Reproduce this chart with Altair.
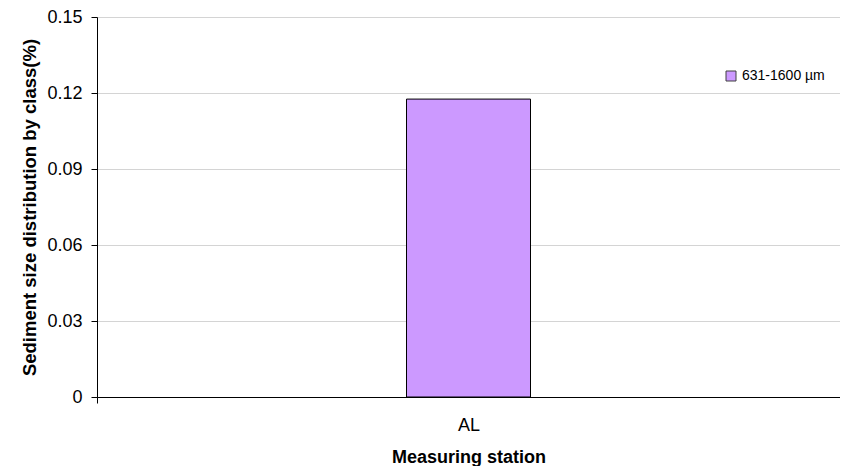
import altair as alt
import pandas as pd

stations = ["AL"]
values = [0.1176]
classes = ["631-1600 µm"]

df = pd.DataFrame({"station": stations, "value": values, "cls": classes})

FONT = "Liberation Sans"

bars = alt.Chart(df).mark_bar(size=124, stroke="black", strokeWidth=1).encode(
    x=alt.X("station:N", title="Measuring station",
            scale=alt.Scale(paddingInner=0, paddingOuter=0),
            axis=alt.Axis(labelAngle=0, labelFontSize=18, labelFont=FONT, labelColor="black",
                          titleFont=FONT, titleFontSize=18, titleFontWeight="bold", titleColor="black",
                          titlePadding=14, labelPadding=13, tickColor="black", domainColor="black",
                          tickBand="extent", grid=False, tickSize=6)),
    y=alt.Y("value:Q", title="Sediment size distribution by class(%)",
            scale=alt.Scale(domain=[0, 0.15], nice=False),
            axis=alt.Axis(values=[0, 0.03, 0.06, 0.09, 0.12, 0.15], format="~g",
                          labelFontSize=18, labelFont=FONT, labelColor="black", labelPadding=9,
                          titleFont=FONT, titleFontSize=18.5, titleFontWeight="bold", titleColor="black",
                          titlePadding=7, gridColor="#d4d4d4", tickColor="black", domainColor="black",
                          tickSize=6)),
    fill=alt.Fill("cls:N", title=None,
                  scale=alt.Scale(range=["#cc99ff"]),
                  legend=alt.Legend(orient="none", legendX=619, legendY=44, fillColor="white",
                                    padding=8, symbolType="square", symbolSize=100,
                                    symbolStrokeColor="#404040", symbolStrokeWidth=1,
                                    labelFont=FONT, labelFontSize=14, labelColor="black")),
)

chart = bars.properties(
    width=743, height=380,
    autosize=alt.AutoSizeParams(type="none"),
    padding={"left": 89, "top": 9, "right": 0, "bottom": 69},
).configure_view(stroke="#909090").configure(font=FONT)

chart.save("out.html", embed_options={"renderer": "svg", "actions": False})
